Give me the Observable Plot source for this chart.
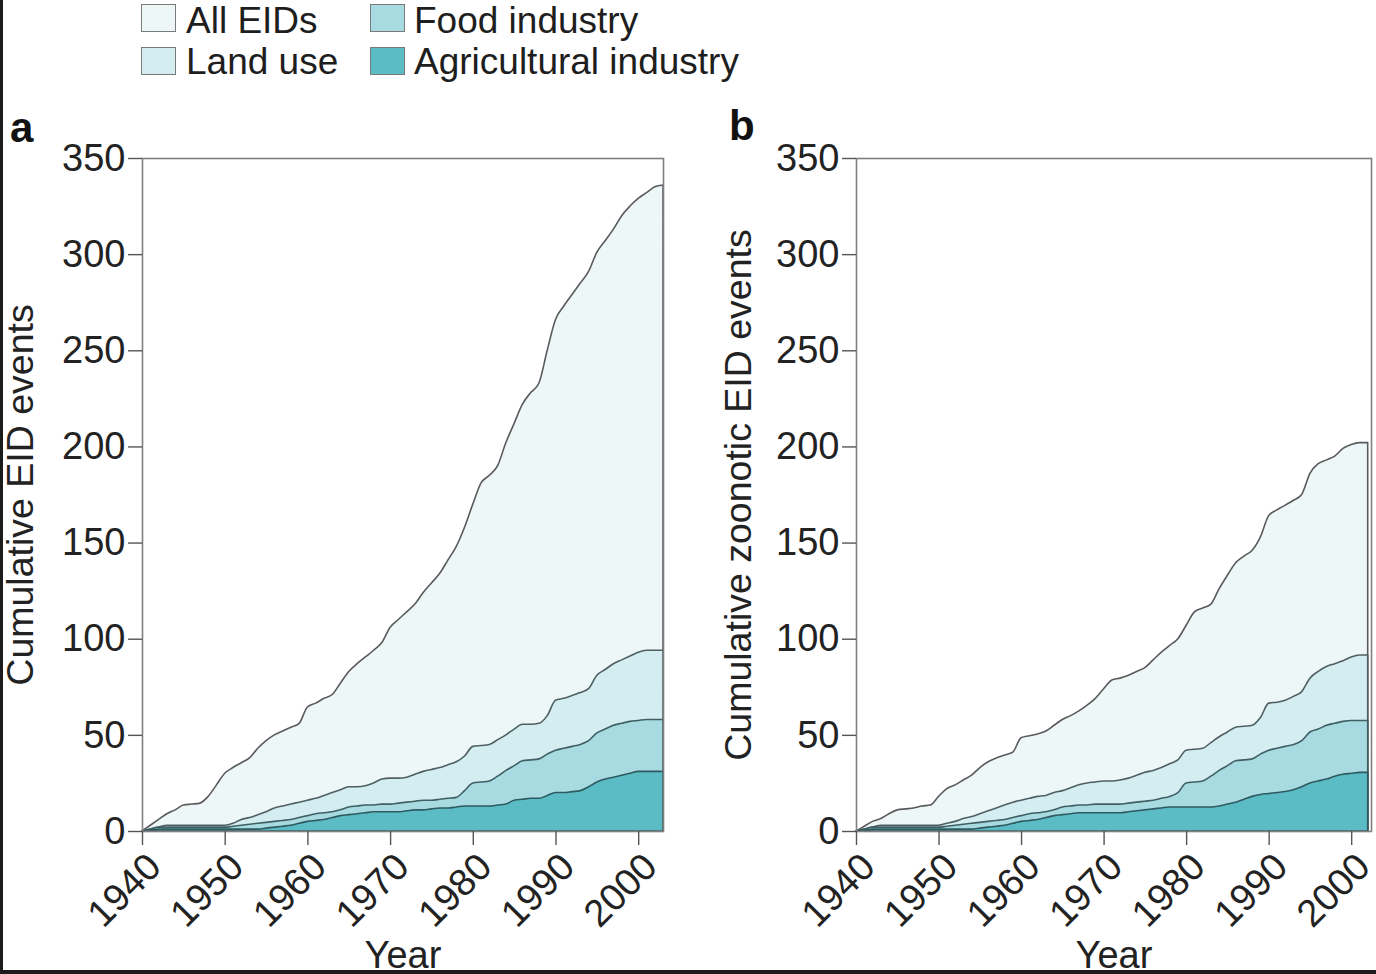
<!DOCTYPE html>
<html>
<head>
<meta charset="utf-8">
<script src="https://cdn.jsdelivr.net/npm/d3@7"></script>
<script src="https://cdn.jsdelivr.net/npm/@observablehq/plot@0.6"></script>
<style>
  html, body { margin: 0; padding: 0; background: #fff; }
  #page { position: relative; width: 1376px; height: 974px; background: #fff; overflow: hidden;
          font-family: "Liberation Sans", Arial, sans-serif; color: #222; }
  .abs { position: absolute; }
  .sw { position: absolute; width: 35px; height: 28px; box-sizing: border-box; border: 1.5px solid #7a7a7a; }
  .lt { position: absolute; font-size: 37px; line-height: 30px; white-space: nowrap; color: #1e1e1e; }
  .panel { position: absolute; font-size: 42px; font-weight: bold; color: #111; font-family: "Liberation Sans", Arial, sans-serif; }
  #lbar { position: absolute; left: 0; top: 0; width: 3px; height: 974px; background: #1b1b1b; }
  #bbar { position: absolute; left: 0; top: 970px; width: 1376px; height: 4px; background: #1b1b1b; }
</style>
</head>
<body>
<div id="page">
  <div id="legend"></div>
  <div class="panel" style="left:10px; top:104px;">a</div>
  <div class="panel" style="left:729px; top:102px;">b</div>
  <div id="pa" class="abs" style="left:0; top:100px;"></div>
  <div id="pb" class="abs" style="left:690px; top:100px;"></div>
  <div id="lbar"></div>
  <div id="bbar"></div>
</div>
<script>
// ---------- data ----------
const seriesNames = ["All EIDs", "Land use", "Food industry", "Agricultural industry"];
const seriesColors = ["#edf7f8", "#d3edf0", "#a7dbe1", "#5bbcc6"];
const seriesStrokes = ["#5a5a5a", "#4f5f62", "#3f5f63", "#2f5a5f"];

const yearsA = d3.range(1940, 2004);  // 1940..2003
const yearsB = d3.range(1940, 2003);  // 1940..2002

// Panel a: cumulative EID events
const allA = [0,3,6,9,11,13.5,14,14.5,18,24,30,33,35.5,38,43,47,50,52,54,56,64.5,66.5,69,71,77,83,87,90.5,94,98,106,110,114,118,124,129,134,141,148,158,170,181,185,190,202,212,222,228,233,250,266,273,279,285,291,301,307,313,320,325,329,332,335,336];
const landA = [0,1,2,3,3,3,3,3,3,3,3,4,6,7,8.5,10,12,13,14,15,16,17,18.5,20,21.5,23,23,23.5,25,27,27.5,27.5,28,29.5,31,32,33,34.5,36,39,44,44.5,45,47.5,50,53,55.5,55.5,56,60,68,69,70.5,72,74,81,84,87,89,91,93,94,94,94];
const foodA = [0,1,2,2,2,2,2,2,2,2,2,2.5,3,3.5,4,4.5,5,5.5,6,7,8,9,9.5,10,11,12.5,13,13.5,13.5,14,14,14.5,15,15.5,16,16,16.5,17,17.5,21,25,25.5,26,28.5,31.5,34,36.5,37,37.5,40,42,43,44,45,47,51,53,55,56,57,57.5,58,58,58];
const agriA = [0,0.5,1,1,1,1,1,1,1,1,1,1,1,1,1,1.5,2,2.5,3,4,5,5.5,6,7,8,8.5,9,9.5,10,10,10,10,10.5,11,11,11.5,12,12,12.5,13,13,13,13,13.5,14,16,16.5,17,17,18.5,20,20,20.5,21,23,25.5,27,28,29,30,31,31,31,31];

// Panel b: cumulative zoonotic EID events
const allB = [0,2.5,5,6.5,9,11,11.5,12,13,13.5,18,22,24,26.5,29,33,36,38,39.5,41,48.5,49.5,50.5,52,55,58,60,62.5,65.5,69,74,78.5,79.5,81,83,85,89,93,96.5,100,107,114,116,118,126,133,139.5,143,146,153,164,167,169.5,172,175,186,191,193,195,199,201,202,202];
const landB = [0,1,2,3,3,3,3,3,3,3,3,4,5,6.5,7.5,9,10.5,12,13.5,15,16,17,18,18.5,20,21,22.5,24,25,25.5,26,26,26.5,27.5,29,30.5,31.5,33,35,37,42,42.5,43,46,49,51.5,54,54.5,55,59,66.5,67,68,70,72.5,79.5,83,85.5,87,88.5,90.5,91.5,91.5];
const foodB = [0,1,2,2,2,2,2,2,2,2,2,2.5,3,3.5,4,4.5,5,5.5,6,7,8,9,9.5,10,11,12.5,13,13.5,13.5,14,14,14,14,14.5,15,15.5,16,17,18,20,25,25.5,26,28.5,31.5,34,36.5,37,37.5,40,42,43,44,45,47,51.5,53,55,56,57,57.5,57.5,57.5];
const agriB = [0,0.5,1,1,1,1,1,1,1,1,1,1,1,1,1,1.5,2,2.5,3,4,5,5.5,6,7,8,8.5,9,9.5,9.5,9.5,9.5,9.5,9.5,10,10.5,11,11.5,12,12.5,12.5,12.5,12.5,12.5,12.5,13,14,15,16.5,18,19,19.5,20,20.5,21.5,23,25,26,27,28.5,29.5,30,30.5,30.5];

const yTicks = [0,50,100,150,200,250,300,350];
const xTicks = [1940,1950,1960,1970,1980,1990,2000];

function toRows(years, arrays) {
  const rows = [];
  arrays.forEach((arr, si) => years.forEach((yr, i) => rows.push({series: seriesNames[si], year: yr, value: arr[i], si})));
  return rows;
}

function panel({years, arrays, width, marginLeft, marginRight, xMax, yLabel, yLabelOffset, yLabelDy}) {
  const rows = toRows(years, arrays);
  const areaMarks = seriesNames.map((name, si) =>
    Plot.areaY(rows.filter(d => d.si === si), {
      x: "year", y: "value", fill: seriesColors[si], stroke: seriesStrokes[si],
      strokeWidth: 1.6, curve: "monotone-x"
    })
  );
  return Plot.plot({
    width, height: 874,
    marginLeft, marginRight, marginTop: 58, marginBottom: 143,
    style: {fontFamily: '"Liberation Sans", Arial, sans-serif', fontSize: "38px", background: "transparent", color: "#222", overflow: "visible"},
    x: {domain: [1940, xMax]},
    y: {domain: [0, 350]},
    marks: [
      ...areaMarks,
      Plot.frame({stroke: "#808080", strokeWidth: 1.6}),
      // tick lines
      Plot.axisX({ticks: xTicks, tickFormat: () => "", tickSize: 14, stroke: "#555", strokeWidth: 1.4, label: null}),
      // rotated tick labels
      Plot.axisX({ticks: xTicks, tickFormat: d => String(d), tickRotate: -45, tickSize: 0, tickPadding: 16,
        fill: "#222", dx: 12, dy: 13, label: null}),
      Plot.axisX({ticks: [], label: "Year", labelAnchor: "center", labelOffset: 136, labelArrow: "none",
        fill: "#222", dx: -8}),
      Plot.axisY({ticks: yTicks, tickSize: 14, tickPadding: 3, stroke: "#555", strokeWidth: 1.4, fill: "#222",
        label: null}),
      Plot.axisY({ticks: [], label: yLabel, labelAnchor: "center", labelOffset: yLabelOffset, labelArrow: "none",
        fill: "#222", fontSize: 37.5, dy: yLabelDy})
    ]
  });
}

document.getElementById("pa").append(panel({
  years: yearsA, arrays: [allA, landA, foodA, agriA], width: 690, marginLeft: 142, marginRight: 27,
  xMax: 2003, yLabel: "Cumulative EID events", yLabelOffset: 136, yLabelDy: 6
}));
document.getElementById("pb").append(panel({
  years: yearsB, arrays: [allB, landB, foodB, agriB], width: 686, marginLeft: 166, marginRight: 5,
  xMax: 2002.4, yLabel: "Cumulative zoonotic EID events", yLabelOffset: 132, yLabelDy: 0
}));

// ---------- legend ----------
const legendPos = [
  {i: 0, sx: 141, sy: 4, tx: 186, ty: 6},
  {i: 2, sx: 370, sy: 4, tx: 414, ty: 6},
  {i: 1, sx: 141, sy: 47, tx: 186, ty: 47},
  {i: 3, sx: 370, sy: 47, tx: 414, ty: 47}
];
const lg = document.getElementById("legend");
legendPos.forEach(p => {
  const s = document.createElement("div");
  s.className = "sw";
  s.style.left = p.sx + "px"; s.style.top = p.sy + "px"; s.style.background = seriesColors[p.i];
  lg.append(s);
  const t = document.createElement("div");
  t.className = "lt";
  t.style.left = p.tx + "px"; t.style.top = p.ty + "px";
  t.textContent = seriesNames[p.i];
  lg.append(t);
});
</script>
</body>
</html>
